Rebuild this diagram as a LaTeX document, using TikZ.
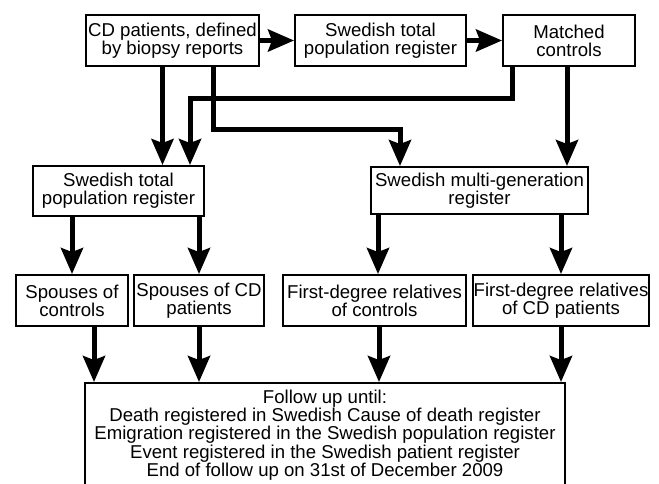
\documentclass[tikz,border=0pt]{standalone}
\usepackage{fontspec}
\setmainfont{Liberation Sans}
\usetikzlibrary{arrows.meta}
\begin{document}
\begin{tikzpicture}[x=1pt,y=-1pt,
  box/.style={draw, line width=1.9pt, align=center, inner sep=0pt,
    font=\fontsize{18.6}{18.2}\selectfont},
  arr/.style={line width=5pt, miter limit=10, -{Stealth[length=26pt,width=22pt,inset=4pt]}}]
\useasboundingbox (0,0) rectangle (659,483);
\node[box, minimum width=173pt, minimum height=51pt] (A) at (172.5,40.5) {CD patients, defined\\by biopsy reports};
\node[box, minimum width=171pt, minimum height=51pt] (B) at (380.5,40.5) {Swedish total\\population register};
\node[box, minimum width=132pt, minimum height=51pt] (C) at (569,40.5) {Matched\\controls};
\node[box, minimum width=171pt, minimum height=50pt] (D) at (118.5,191) {Swedish total\\population register};
\node[box, minimum width=217pt, minimum height=47pt] (F) at (479.5,190.5) {Swedish multi-generation\\register};
\node[box, minimum width=112pt, minimum height=51pt] (G1) at (72,300.5) {Spouses of\\controls};
\node[box, minimum width=130pt, minimum height=51pt] (G2) at (199,300.5) {Spouses of CD\\patients};
\node[box, minimum width=183pt, minimum height=51pt] (H1) at (374.5,300.5) {First-degree relatives\\of controls};
\node[box, minimum width=176pt, minimum height=51pt] (H2) at (561,300.5) {First-degree relatives\\of CD patients};
\node[box, minimum width=480pt, minimum height=104pt] (FU) at (325,435) {Follow up until:\\Death registered in Swedish Cause of death register\\Emigration registered in the Swedish population register\\Event registered in the Swedish patient register\\End of follow up on 31st of December 2009};
% top row
\draw[arr] (A.east) -- (B.west);
\draw[arr] (B.east) -- (C.west);
% from CD patients
\draw[arr] ([xshift=-10pt]A.south) -- ([xshift=-10pt]A.south |- D.north);
\draw[arr] ([xshift=40.5pt]A.south) -- ++(0,63) -| ([xshift=-79.5pt]F.north);
% from matched controls
\draw[arr] ([xshift=-57pt]C.south) -- ++(0,32) -| ([xshift=71.5pt]D.north);
\draw[arr] ([xshift=-2pt]C.south) -- ([xshift=-2pt]C.south |- F.north);
% registers to groups
\draw[arr] (D.south -| G1.north) -- (G1.north);
\draw[arr] (D.south -| G2.north) -- (G2.north);
\draw[arr] ([xshift=3.5pt]H1.north |- F.south) -- ([xshift=3.5pt]H1.north);
\draw[arr] (F.south -| H2.north) -- (H2.north);
% groups to follow up
\draw[arr] ([xshift=22pt]G1.south) -- ([xshift=22pt]G1.south |- FU.north);
\draw[arr] (G2.south) -- (G2.south |- FU.north);
\draw[arr] ([xshift=4.5pt]H1.south) -- ([xshift=4.5pt]H1.south |- FU.north);
\draw[arr] (H2.south) -- (H2.south |- FU.north);
\end{tikzpicture}
\end{document}
